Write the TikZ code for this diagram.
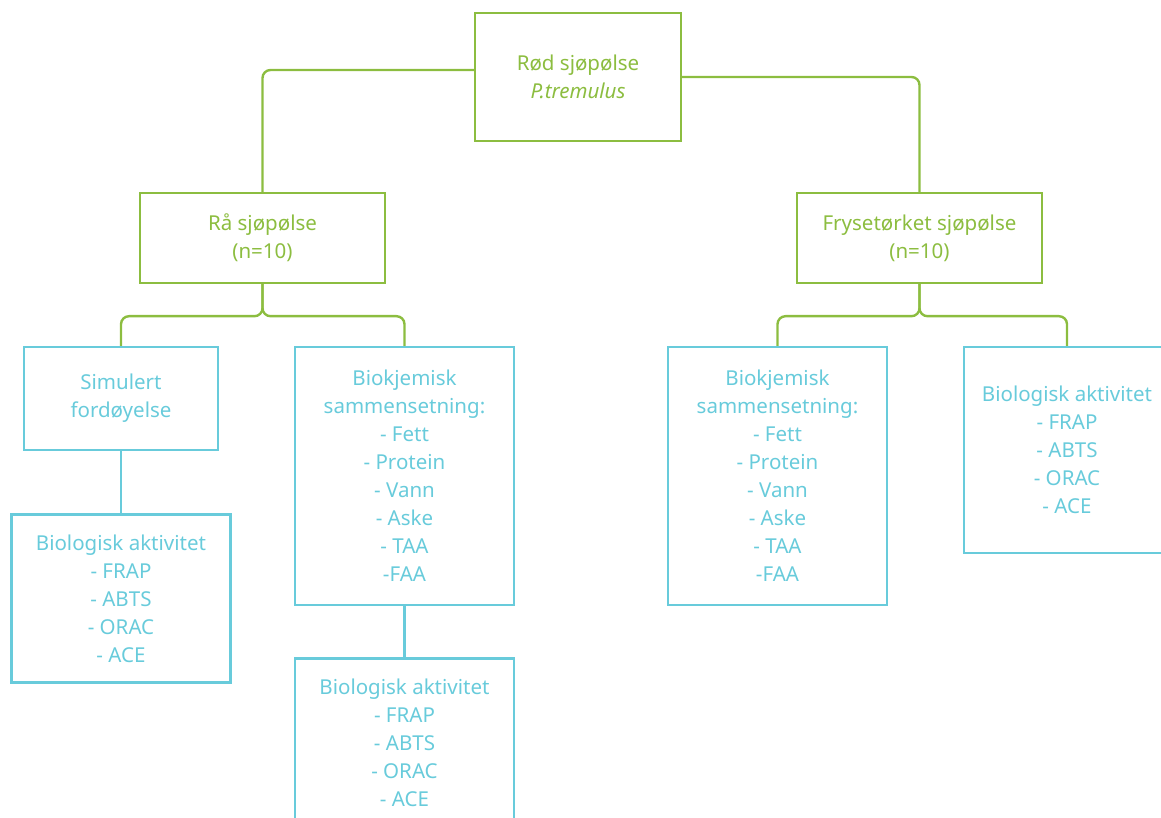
\documentclass[tikz,border=0pt]{standalone}
\usepackage{fontspec}
\setmainfont{Noto Sans}
\usetikzlibrary{positioning}
\definecolor{leafgreen}{RGB}{140,189,64}
\definecolor{seacyan}{RGB}{104,203,219}

\begin{document}
\begin{tikzpicture}[node distance=1.6cm,
	sample/.style={shape=rectangle, draw=leafgreen, text=leafgreen, line width=1.7pt, align=center, font=\fontsize{14.6pt}{19.9pt}\selectfont},
	assay/.style={shape=rectangle, draw=seacyan, text=seacyan, line width=1.7pt, align=center, font=\fontsize{14.6pt}{19.9pt}\selectfont, minimum width=5.475cm},
	link/.style={draw=leafgreen, line width=1.7pt, rounded corners=0.2cm},
	clink/.style={draw=seacyan, line width=1.7pt}]
	\useasboundingbox (0,0) rectangle (29.025,-20.45);
	\clip (0,0) rectangle (29.025,-20.45);

	\node[sample, minimum width=5.15cm, minimum height=3.2cm] (rod) at (14.45,-1.925) {Rød sjøpølse\\\textit{P.tremulus}};
	\node[sample, minimum width=6.125cm, minimum height=2.25cm] (raa) at (6.5625,-5.95) {Rå sjøpølse\\(n=10)};
	\node[sample, minimum width=6.125cm, minimum height=2.25cm] (frys) at (22.9875,-5.95) {Frysetørket sjøpølse\\(n=10)};

	\node[assay, minimum width=4.85cm, minimum height=2.575cm] (sim) at (3.025,-9.9625) {Simulert\\fordøyelse};
	\node[assay, minimum height=4.2cm] (bioA) [below=1.55cm of sim] {Biologisk aktivitet\\- FRAP\\- ABTS\\- ORAC\\- ACE};
	\node[assay, minimum height=6.45cm] (biokA) at (10.1125,-11.9) {Biokjemisk\\sammensetning:\\- Fett\\- Protein\\- Vann\\- Aske\\- TAA\\-FAA};
	\node[assay, minimum height=4.2cm] (bioB) [below=1.275cm of biokA] {Biologisk aktivitet\\- FRAP\\- ABTS\\- ORAC\\- ACE};
	\node[assay, minimum height=6.45cm] (biokB) at (19.4375,-11.9) {Biokjemisk\\sammensetning:\\- Fett\\- Protein\\- Vann\\- Aske\\- TAA\\-FAA};
	\node[assay, minimum width=5.15cm, minimum height=5.15cm] (bioC) at (26.675,-11.25) {Biologisk aktivitet\\- FRAP\\- ABTS\\- ORAC\\- ACE};

	\draw[link] ([yshift=0.175cm]rod.west) -| (raa.north);
	\draw[link] (rod.east) -| (frys.north);
	\draw[link] (raa.south) -- ++(0,-0.8) -| (sim.north);
	\draw[link] (raa.south) -- ++(0,-0.8) -| (biokA.north);
	\draw[link] (frys.south) -- ++(0,-0.8) -| (biokB.north);
	\draw[link] (frys.south) -- ++(0,-0.8) -| (bioC.north);
	\draw[clink] (sim.south) -- (bioA.north);
	\draw[clink] (biokA.south) -- (bioB.north);
\end{tikzpicture}
\end{document}
